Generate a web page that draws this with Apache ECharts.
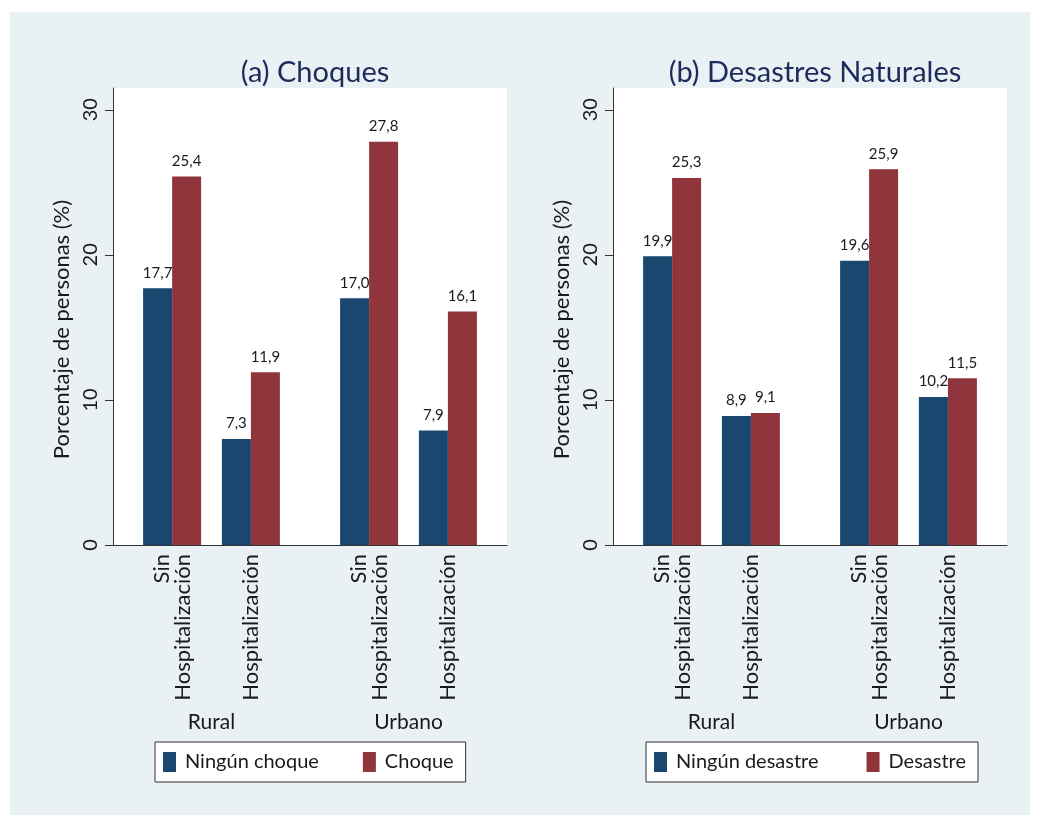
<!DOCTYPE html>
<html>
<head>
<meta charset="utf-8">
<script src="https://cdn.jsdelivr.net/npm/echarts@6/dist/echarts.min.js"></script>
<style>
  html, body { margin: 0; padding: 0; background: #ffffff; }
  #chart { position: absolute; left: 10px; top: 12px; width: 1020px; height: 803px; }
</style>
</head>
<body>
<div id="chart"></div>
<script>
// data
const categories = ['Sin\nHospitalización', 'Hospitalización', 'Sin\nHospitalización', 'Hospitalización'];
const areas = ['Rural', 'Urbano'];
const ningunChoque = [17.7, 7.3, 17.0, 7.9];
const choque = [25.4, 11.9, 27.8, 16.1];
const ningunDesastre = [19.9, 8.9, 19.6, 10.2];
const desastre = [25.3, 9.1, 25.9, 11.5];
const yTicks = [0, 10, 20, 30];
const panelTitles = ['(a) Choques', '(b) Desastres Naturales'];

// stata-like spacing: categories sit in slots of an evenly divided axis
const slotCount = 10;
const barSlots = [1, 3, 6, 8];
const areaSlots = [2, 7];

function toSlots(values, slots, empty) {
    const out = new Array(slotCount).fill(empty);
    slots.forEach((s, i) => { out[s] = values[i]; });
    return out;
}

const FONT = 'Lato, "Open Sans", sans-serif';
const NAVY = '#1a476f';
const MAROON = '#90353b';
const TEXT = '#1a1a1a';

const panels = [
    { left: 103, a: ['Ningún choque', ningunChoque], b: ['Choque', choque], legendLeft: 145, gap: 44 },
    { left: 603, a: ['Ningún desastre', ningunDesastre], b: ['Desastre', desastre], legendLeft: 636, gap: 48 }
];
const plotWidth = 394;

const chart = echarts.init(document.getElementById('chart'));

const option = {
    backgroundColor: '#e9f1f5',
    textStyle: { fontFamily: FONT },
    animation: false,
    title: panels.map((p, i) => ({
        text: panelTitles[i],
        left: p.left + plotWidth / 2,
        top: 41,
        textAlign: 'center',
        textStyle: { fontFamily: FONT, fontSize: 29, fontWeight: 'normal', color: '#1c2b5a' }
    })),
    legend: panels.map((p, i) => ({
        data: [p.a[0], p.b[0]],
        left: p.legendLeft,
        top: 730,
        orient: 'horizontal',
        itemWidth: 13,
        itemHeight: 20,
        itemGap: p.gap,
        padding: [10, 12, 10, 8],
        backgroundColor: '#ffffff',
        borderColor: '#333333',
        borderWidth: 1,
        borderRadius: 0,
        icon: 'rect',
        selectedMode: false,
        textStyle: { fontFamily: FONT, fontSize: 20, color: TEXT, padding: [0, 0, 0, 4] }
    })),
    grid: panels.map(p => ({
        left: p.left,
        width: plotWidth,
        top: 76,
        bottom: 270,
        show: true,
        backgroundColor: '#ffffff',
        borderWidth: 0
    })),
    xAxis: [].concat(...panels.map((p, i) => [
        {
            type: 'category',
            gridIndex: i,
            data: toSlots(categories, barSlots, ''),
            axisLine: { lineStyle: { color: '#333333', width: 1 } },
            axisTick: { show: false },
            axisLabel: {
                interval: 0,
                rotate: 90,
                margin: 9,
                fontFamily: FONT,
                fontSize: 22,
                lineHeight: 21,
                color: TEXT
            }
        },
        {
            type: 'category',
            gridIndex: i,
            position: 'bottom',
            offset: 162,
            data: toSlots(areas, areaSlots, ''),
            axisLine: { show: false },
            axisTick: { show: false },
            axisLabel: { interval: 0, margin: 5, fontFamily: FONT, fontSize: 21, color: TEXT }
        }
    ])),
    yAxis: panels.map((p, i) => ({
        type: 'value',
        gridIndex: i,
        min: 0,
        max: 31.5,
        name: 'Porcentaje de personas (%)',
        nameLocation: 'middle',
        nameGap: 40,
        nameTextStyle: { fontFamily: FONT, fontSize: 22, color: TEXT, padding: [0, 26, 0, 0] },
        axisLine: { show: true, lineStyle: { color: '#333333', width: 1 } },
        axisTick: { show: true, length: 8, lineStyle: { color: '#333333' }, customValues: yTicks },
        axisLabel: {
            rotate: 90,
            margin: 12,
            fontFamily: FONT,
            fontSize: 20,
            color: TEXT,
            customValues: yTicks
        },
        splitLine: { show: false }
    })),
    series: [].concat(...panels.map((p, i) => [
        [p.a, NAVY],
        [p.b, MAROON]
    ].map(([s, color]) => ({
        type: 'bar',
        name: s[0],
        xAxisIndex: i * 2,
        yAxisIndex: i,
        data: toSlots(s[1], barSlots, '-'),
        barWidth: 29,
        barGap: '0%',
        itemStyle: { color: color },
        label: {
            show: true,
            position: 'top',
            distance: 8,
            fontFamily: FONT,
            fontSize: 15,
            color: TEXT,
            formatter: d => Number(d.value).toFixed(1).replace('.', ',')
        }
    }))))
};

chart.setOption(option);
</script>
</body>
</html>
